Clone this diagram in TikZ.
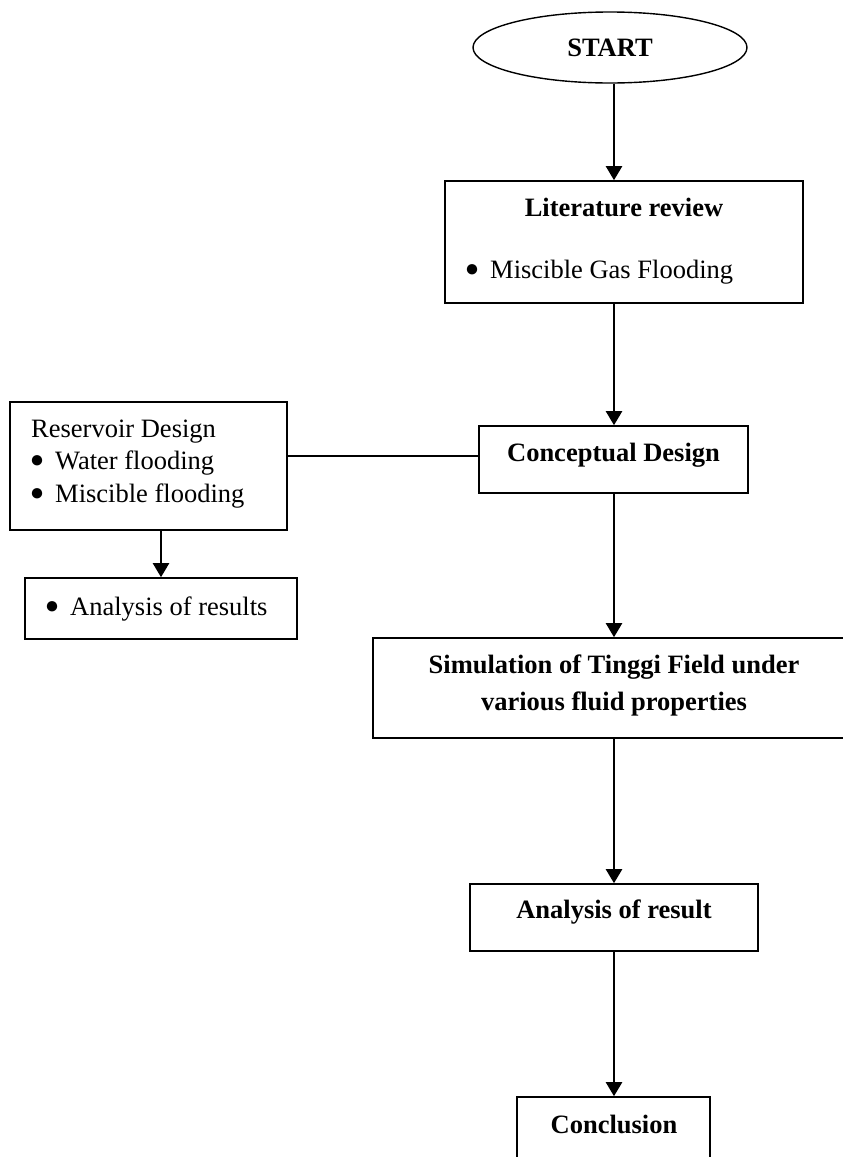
\documentclass[tikz,border=0pt]{standalone}
\usepackage{fontspec}
\setmainfont{Liberation Serif}
\usetikzlibrary{shapes.geometric,arrows.meta}
\begin{document}
\begin{tikzpicture}[x=1pt,y=-1pt,
  box/.style={draw,line width=1.6pt,inner sep=0pt,rectangle},
  txt/.style={inner sep=0pt,font=\fontsize{26.5}{32}\selectfont},
  btxt/.style={inner sep=0pt,font=\fontsize{26.5}{32}\selectfont\bfseries},
  bul/.style={inner sep=0pt,anchor=base,font=\fontsize{24}{24}\selectfont},
  arr/.style={line width=2.3pt,-{Triangle[length=14pt,width=16pt]}},
  link/.style={line width=1.6pt}]
\useasboundingbox (0,0) rectangle (843,1157);
\coordinate (spine) at (614,0);

% boxes
\node[draw,line width=1.4pt,ellipse,inner sep=0pt,minimum width=274,minimum height=71,
      font=\fontsize{26.5}{32}\selectfont\bfseries] (start) at (610,47.5) {START};
\node[box,minimum width=358,minimum height=122] (lit) at (624,242) {};
\node[box,minimum width=269,minimum height=67] (concept) at (613.5,459.5) {};
\node[box,minimum width=277,minimum height=128] (res) at (148.5,466) {};
\node[box,minimum width=272,minimum height=61] (results) at (161,608.5) {};
\node[box,minimum width=477,minimum height=100] (sim) at (611.5,688) {};
\node[box,minimum width=288,minimum height=67] (ana) at (614,917.5) {};
\node[box,minimum width=193,minimum height=73] (concl) at (613.5,1133.5) {};

% texts
\node[btxt,anchor=base] (tlit) at (624,216) {Literature review};
\node[bul] (blit) at (472,276.5) {●};
\node[txt,anchor=base west] (tlit2) at (490,278) {Miscible Gas Flooding};

\node[btxt,anchor=base] (tconcept) at (613.5,461) {Conceptual Design};

\node[txt,anchor=base west] (tres) at (31,437) {Reservoir Design};
\node[bul] (bres1) at (37,467.5) {●};
\node[txt,anchor=base west] (tres1) at (55,469) {Water flooding};
\node[bul] (bres2) at (37,500.5) {●};
\node[txt,anchor=base west] (tres2) at (55,502) {Miscible flooding};

\node[bul] (bresults) at (52,613.5) {●};
\node[txt,anchor=base west] (tresults) at (70,615) {Analysis of results};

\node[btxt,anchor=base] (tsim1) at (614,673) {Simulation of Tinggi Field under};
\node[btxt,anchor=base] (tsim2) at (614,710) {various fluid properties};

\node[btxt,anchor=base] (tana) at (614,918) {Analysis of result};
\node[btxt,anchor=base] (tconcl) at (614,1133) {Conclusion};

% connectors
\draw[arr] (start.south -| spine) -- (lit.north -| spine);
\draw[arr] (lit.south -| spine) -- (concept.north -| spine);
\draw[arr] (concept.south -| spine) -- (sim.north -| spine);
\draw[arr] (sim.south -| spine) -- (ana.north -| spine);
\draw[arr] (ana.south -| spine) -- (concl.north -| spine);
\draw[arr] (results.north |- res.south) -- (results.north);
\draw[link] ([yshift=10pt]res.east) -- ([yshift=10pt]res.east -| concept.west);
\end{tikzpicture}
\end{document}
